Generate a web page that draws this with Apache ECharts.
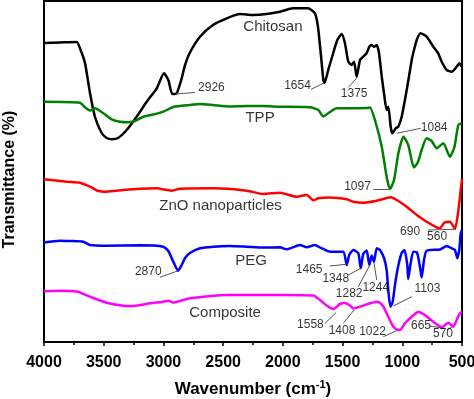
<!DOCTYPE html>
<html>
<head>
<meta charset="utf-8">
<script src="https://cdn.jsdelivr.net/npm/echarts@6/dist/echarts.min.js"></script>
<style>
    html, body { margin: 0; padding: 0; background: #fff; }
    #ftir_chart { width: 474px; height: 399px; }
</style>
</head>
<body>
<div id="ftir_chart"></div>
<script>
// 曲线数据 [波数 cm-1, 透过率(任意单位, 已叠加偏移)]
var chitosan = [
    [4000, 299], [3866, 299.5], [3726, 300], [3699, 293.7], [3657, 279], [3615, 249], [3573, 225],
    [3517, 209], [3475, 204], [3433, 202.7], [3380, 204], [3308, 212], [3224, 225.3], [3140, 240.3],
    [3056, 253.7], [2995, 268.7], [2959, 262], [2926, 248], [2889, 248.7], [2847, 263.7], [2819, 277],
    [2778, 289.5], [2694, 305.3], [2585, 317], [2470, 323.7], [2359, 328], [2250, 327], [2135, 328],
    [2024, 330.3], [1915, 333.7], [1790, 333.7], [1731, 328.7], [1706, 315.3], [1683, 289], [1661, 262],
    [1651, 259], [1620, 272], [1578, 289], [1544, 302], [1507, 308], [1480, 298.7], [1452, 280.3],
    [1424, 277], [1404, 280.3], [1382, 265.3], [1354, 282], [1327, 285.3], [1298, 289], [1276, 295.3],
    [1256, 297], [1237, 295.3], [1214, 297], [1195, 289], [1172, 265.3], [1153, 248.7], [1131, 232],
    [1117, 235.3], [1097, 215.3], [1084, 208.7], [1055, 213.7], [1034, 215.3], [1005, 225.3], [963, 252],
    [921, 282], [908, 289], [879, 302], [846, 308.7], [796, 305.3], [740, 295.3], [699, 288.7],
    [670, 280.3], [628, 272], [586, 270.3], [544, 275.3], [523, 278.7], [503, 275.3]
];
var tpp = [
    [4000, 240.3], [3699, 239.3], [3657, 234.7], [3615, 231.5], [3573, 233.7], [3503, 228.7], [3433, 222.7],
    [3364, 220.3], [3294, 219.8], [3238, 221], [3169, 225.3], [3085, 227.5], [3001, 230.3], [2917, 235],
    [2778, 237], [2694, 238], [2585, 237], [2443, 235.5], [2303, 236], [2166, 236], [2024, 235.3],
    [1773, 234.7], [1703, 232], [1661, 225.5], [1620, 228.7], [1549, 233.7], [1438, 233.7], [1298, 234],
    [1270, 234.5], [1229, 222], [1172, 195.3], [1131, 165.3], [1103, 153], [1069, 162], [1033, 188.7],
    [990, 205.3], [950, 197], [902, 174.5], [869, 180], [838, 192], [796, 203.7], [754, 201], [712, 193.7],
    [657, 198.7], [601, 185.3], [563, 195.3], [531, 217], [503, 218.7]
];
var zno = [
    [4000, 162.7], [3810, 160.3], [3699, 159.3], [3615, 155.3], [3545, 151], [3475, 150.3], [3336, 152],
    [3196, 153.3], [3056, 153.7], [2973, 152], [2931, 151.3], [2861, 153.3], [2585, 153.7], [2303, 151.3],
    [2164, 148], [2024, 149.3], [1884, 145.3], [1800, 147], [1745, 141.7], [1703, 143.7], [1605, 144.5],
    [1465, 142.7], [1410, 140.3], [1326, 139.3], [1214, 141.3], [1095, 144.7], [1047, 142], [963, 135.3],
    [879, 127], [796, 120.3], [712, 114.7], [684, 113.7], [647, 119.5], [601, 120.3], [559, 113],
    [531, 131], [511, 152], [500, 163]
];
var peg = [
    [4000, 99.5], [3866, 101.3], [3782, 101], [3671, 100.3], [3615, 97], [3475, 96.3], [3196, 96.7],
    [3001, 95.3], [2959, 91], [2917, 80.3], [2878, 71.3], [2847, 77], [2819, 84], [2778, 89], [2694, 93.7],
    [2582, 95.3], [2443, 96], [2303, 95.3], [2164, 94.5], [2024, 94.7], [1968, 92.7], [1857, 97],
    [1800, 94.7], [1731, 97], [1689, 94.5], [1633, 91.3], [1605, 90.3], [1494, 90.3], [1465, 77],
    [1444, 87], [1410, 92], [1368, 88.7], [1348, 73.7], [1327, 88], [1298, 91.5], [1276, 77], [1256, 86.5],
    [1237, 80.3], [1214, 93.7], [1187, 92], [1153, 84], [1131, 72], [1116, 50], [1099, 35.3], [1080, 40.5],
    [1059, 59], [1033, 76.5], [1005, 89], [982, 92], [958, 77], [950, 63], [930, 78.7], [908, 90.3],
    [877, 89.5], [852, 75.3], [838, 64.5], [818, 82], [796, 91.2], [684, 92.5], [628, 96], [586, 93.7],
    [559, 92], [539, 83.7], [523, 92], [511, 108.7], [500, 112]
];
var composite = [
    [4000, 50.7], [3866, 51.3], [3726, 50.5], [3615, 45.3], [3475, 39.3], [3336, 36.3], [3252, 36],
    [3112, 38.7], [3001, 40.3], [2959, 41.3], [2917, 39.3], [2834, 42], [2778, 43.7], [2582, 46.3],
    [2443, 47], [2024, 47], [1745, 46.5], [1689, 42], [1633, 36.5], [1578, 33], [1551, 35], [1522, 38],
    [1480, 39], [1438, 36.5], [1410, 33.5], [1354, 35.3], [1270, 38.7], [1214, 40.3], [1187, 39.3],
    [1159, 35.3], [1117, 25.3], [1075, 15.3], [1033, 12], [1011, 12.7], [978, 18.7], [921, 25.3],
    [866, 30], [824, 28], [740, 20.3], [670, 14.7], [615, 19.3], [573, 15.3], [539, 23.7], [517, 28.7],
    [500, 30.3]
];

// x轴刻度
var xTicks = [4000, 3500, 3000, 2500, 2000, 1500, 1000, 500];

// 曲线名称标注 [波数, 纵坐标, 文字]
var curveNames = [
    [2083, 315.3, 'Chitosan'],
    [2191, 224, 'TPP'],
    [2522, 136, 'ZnO nanoparticles'],
    [2267, 81.3, 'PEG'],
    [2484, 29.3, 'Composite']
];

// 峰位标注 [波数, 纵坐标, 文字]
var peakNames = [
    [2598, 254.7, '2926'], [1877, 256, '1654'], [1403, 248, '1375'], [733, 214.7, '1084'],
    [1375, 155.3, '1097'], [935, 110.3, '690'], [709, 105.3, '560'], [3127, 70.3, '2870'],
    [1780, 72, '1465'], [1557, 63, '1348'], [1445, 48, '1282'], [1222, 54.7, '1244'],
    [789, 53.7, '1103'], [1769, 17.7, '1558'], [1505, 11.3, '1408'], [1249, 10.3, '1022'],
    [843, 16.3, '665'], [659, 8, '570']
];

// 引线 [x1, y1, x2, y2]
var leaders = [
    [2895, 248, 2736, 249.5], [1764, 252.7, 1661, 258.7], [1452, 254.7, 1382, 263.7],
    [1047, 208.7, 846, 213.7], [1243, 152.7, 1109, 152.7], [782, 112, 559, 112.7],
    [3029, 64.7, 2876, 71.3], [1605, 76, 1471, 77.7], [1452, 67, 1348, 73.7],
    [1368, 55.3, 1276, 76], [1214, 62, 1237, 79.3], [1075, 36, 921, 45.3],
    [1647, 18.7, 1555, 29.3], [1494, 18.7, 1404, 32], [1159, 5.3, 1047, 11.3],
    [768, 16, 657, 13.7], [626, 12.5, 580, 15]
];

init();

/**
 * 初始化FTIR谱图
 */
function init() {
    var font = '"Liberation Sans", Arial, sans-serif';

    function lineSeries(name, data, color) {
        return {
            name: name,
            type: 'line',
            data: data,
            showSymbol: false,
            smooth: 0.2,
            lineStyle: { color: color, width: 2.5 },
            z: 3
        };
    }

    function textSeries(list, size) {
        return {
            type: 'scatter',
            data: list,
            symbolSize: 0,
            silent: true,
            z: 5,
            label: {
                show: true,
                position: 'inside',
                formatter: function (p) { return p.value[2]; },
                color: '#000',
                fontSize: size,
                fontFamily: font
            }
        };
    }

    let leaderSeries = textSeries(peakNames, 12);
    leaderSeries.markLine = {
        silent: true,
        symbol: 'none',
        label: { show: false },
        lineStyle: { color: '#555', width: 1, type: 'solid' },
        data: leaders.map(function (l) {
            return [{ coord: [l[0], l[1]] }, { coord: [l[2], l[3]] }];
        })
    };

    let option = {
        animation: false,
        backgroundColor: '#fff',
        grid: {
            left: 44,
            right: 12,
            top: 1,
            bottom: 57,
            containLabel: false,
            outerBoundsMode: 'none',
            show: true,
            borderColor: '#000',
            borderWidth: 2
        },
        xAxis: {
            type: 'value',
            inverse: true,
            min: 500,
            max: 4000,
            interval: 500,
            name: 'Wavenumber (cm{sup|-1})',
            nameLocation: 'middle',
            nameGap: 37,
            nameTextStyle: {
                color: '#000',
                fontSize: 17,
                fontWeight: 'bold',
                fontFamily: font,
                rich: {
                    sup: { fontSize: 11, fontWeight: 'bold', fontFamily: font, padding: [0, 0, 9, 0] }
                }
            },
            axisLine: { show: true, lineStyle: { color: '#000', width: 2 } },
            axisTick: { show: true, inside: false, length: 4, lineStyle: { color: '#000', width: 1.5 } },
            minorTick: { show: true, splitNumber: 2, length: 3, lineStyle: { color: '#000', width: 1.5 } },
            splitLine: { show: false },
            axisLabel: {
                color: '#000',
                fontSize: 16,
                fontWeight: 'bold',
                fontFamily: font,
                margin: 13,
                formatter: function (v) { return xTicks.indexOf(v) >= 0 ? String(v) : ''; }
            }
        },
        yAxis: {
            type: 'value',
            min: 0,
            max: 341,
            name: 'Transmittance (%)',
            nameLocation: 'middle',
            nameGap: 26,
            nameTextStyle: {
                color: '#000',
                fontSize: 16,
                fontWeight: 'bold',
                fontFamily: font,
                padding: [0, 16, 0, 0]
            },
            axisLine: { show: true, lineStyle: { color: '#000', width: 2 } },
            axisTick: { show: false },
            axisLabel: { show: false },
            splitLine: { show: false }
        },
        series: [
            lineSeries('Chitosan', chitosan, '#000000'),
            lineSeries('TPP', tpp, '#008000'),
            lineSeries('ZnO nanoparticles', zno, '#ff0000'),
            lineSeries('PEG', peg, '#0000ff'),
            lineSeries('Composite', composite, '#ff00ff'),
            textSeries(curveNames, 15),
            leaderSeries
        ]
    };

    var ftir_chart = echarts.init(document.getElementById('ftir_chart'));
    ftir_chart.setOption(option);
}
</script>
</body>
</html>
